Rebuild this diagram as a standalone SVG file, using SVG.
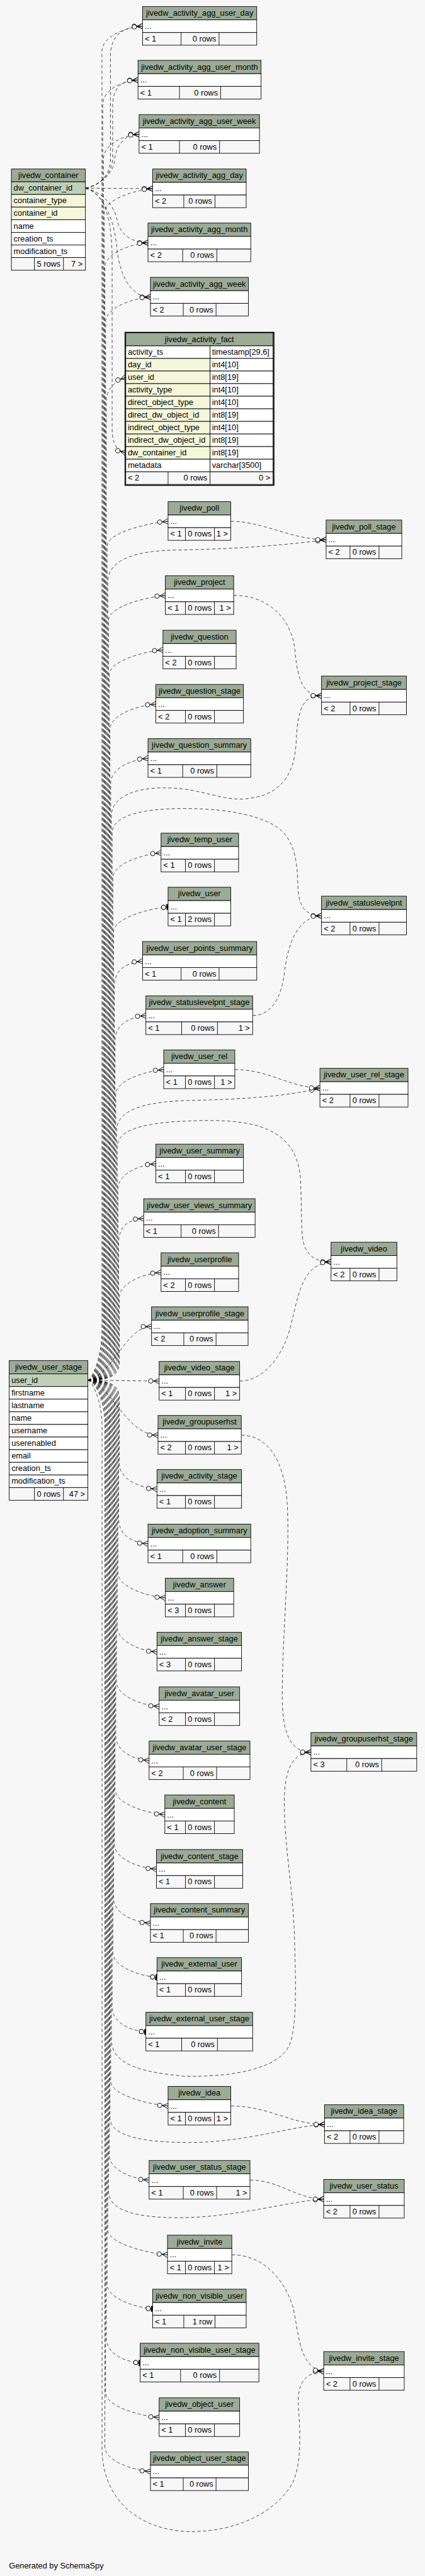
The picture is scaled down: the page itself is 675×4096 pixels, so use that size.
<svg xmlns="http://www.w3.org/2000/svg" xmlns:xlink="http://www.w3.org/1999/xlink" width="675" height="4096" viewBox="0 0 675 4096">
<style>
text{font-family:"Liberation Sans",Arial,Helvetica,sans-serif;font-size:14.5px;fill:#000}
.c{text-anchor:middle}
.r{text-anchor:end}
.hd{fill:#9bab96;stroke:#000;stroke-width:1}
.rw{fill:#fff;stroke:#000;stroke-width:1}
.ft{fill:#f7f7f7;stroke:#000;stroke-width:1}
.pk{fill:#bed1b8;stroke:#000;stroke-width:1}
.ix{fill:#f4f7da;stroke:#000;stroke-width:1}
.dv{stroke:#000;stroke-width:1;fill:none}
</style>
<defs>
<marker id="crow" markerUnits="userSpaceOnUse" orient="auto" markerWidth="30" markerHeight="20" viewBox="-25 -10 30 20" refX="0" refY="0" overflow="visible">
<circle cx="-15" cy="0" r="4" fill="#f7f7f7" stroke="#000" stroke-width="1"/>
<path d="M-11,0H0M-10,0L0,-5M-10,0L0,5" fill="none" stroke="#000" stroke-width="1"/>
</marker>
<marker id="tee" markerUnits="userSpaceOnUse" orient="auto" markerWidth="30" markerHeight="20" viewBox="-25 -10 30 20" refX="0" refY="0" overflow="visible">
<circle cx="-8" cy="0" r="4" fill="#f7f7f7" stroke="#000" stroke-width="1"/>
<path d="M-4,0H0" fill="none" stroke="#000" stroke-width="1"/>
<path d="M-1.5,-5V5" fill="none" stroke="#000" stroke-width="2.5"/>
</marker>
</defs>
<rect x="0" y="0" width="675" height="4096" fill="#f7f7f7"/>
<g transform="scale(0.886)">
<g id="connectors">
<use xlink:href="#edgepaths" href="#edgepaths" style="fill:none;stroke:#fff;stroke-width:0.8"/>
<g style="fill:none;stroke:#000;stroke-width:0.8;stroke-dasharray:6,4;marker-end:url(#crow)">
<g id="edgepaths">
<path d="M153.1,337.7 C175,334 196,318 198,290 L198,100 C198,65 220,47 255.6,47"/>
<path d="M153.1,337.7 C178,333 200,315 202,285 L202,190 C202,160 215,144 247.4,143.6"/>
<path d="M153.1,337.7 C180,332 203,310 205,290 C207,265 220,241 249.3,241"/>
<path d="M153.1,337.7 L273.6,338.6"/>
<path d="M153.1,337.7 C185,345 205,370 210,395 C215,420 235,435.6 265.3,435.6"/>
<path d="M153.1,337.7 C188,348 205,400 209,440 C213,490 232,533 269.7,533"/>
<path d="M153.1,337.7 C190,345 200,400 201,460 L201,770 C201,795 208,808 225.5,812.8"/>
<path d="M157.5,2477 C200,2470 225,2381 271.7,2380.6"/>
<path d="M157.5,2477 L285.3,2478.6"/>
<path d="M157.5,2477 C194,2477 214,2470 214,2445 L214,2328.6 C214,2303.6 253.7,2286.6 288.7,2283.6"/>
<path d="M157.5,2477 C192.7,2477 212.7,2468.8 212.7,2442.5 L212.7,2231.6 C212.7,2206.6 222.6,2189.6 257.6,2186.6"/>
<path d="M157.5,2477 C191.4,2477 211.4,2467.6 211.4,2440 L211.4,2133.6 C211.4,2108.6 244.4,2091.6 279.4,2088.6"/>
<path d="M157.5,2477 C190.1,2477 210.1,2466.4 210.1,2437.5 L210.1,2058 C210.1,2025 265,2011 380,2011 C480,2011 535,2040 539,2120 L541,2205 C542,2250 560,2264 593.4,2264.6"/>
<path d="M157.5,2477 C188.8,2477 208.8,2465.2 208.8,2435 L208.8,2030 C208.8,1995 250,1977 340,1975 C430,1973 515,1968 573.5,1952.6"/>
<path d="M157.5,2477 C187.5,2477 207.5,2464 207.5,2432.5 L207.5,1964.6 C207.5,1939.6 258.5,1922.6 293.5,1919.6"/>
<path d="M157.5,2477 C186.2,2477 206.2,2462.8 206.2,2430 L206.2,1867.6 C206.2,1842.6 226.5,1825.6 261.5,1822.6"/>
<path d="M157.5,2477 C184.9,2477 204.9,2461.6 204.9,2427.5 L204.9,1770 C204.9,1745 220.6,1728 255.6,1725"/>
<path marker-end="url(#tee)" d="M157.5,2477 C183.6,2477 203.6,2460.4 203.6,2425 L203.6,1672.6 C203.6,1647.6 266.3,1630.6 301.3,1627.6"/>
<path d="M157.5,2477 C182.3,2477 202.3,2459.2 202.3,2422.5 L202.3,1575.6 C202.3,1550.6 253.7,1533.6 288.7,1530.6"/>
<path d="M157.5,2477 C181,2477 201,2458 201,2420 L201,1495 C201,1465 250,1451 330,1451 C420,1451 490,1468 513,1500 C533,1527 533,1565 534,1590 C535,1628 548,1643 576.4,1643.6"/>
<path d="M157.5,2477 C179.7,2477 199.7,2456.8 199.7,2417.5 L199.7,1465 C199.7,1428 245,1413 300,1414 C360,1415 395,1436 435,1434 C500,1430 528,1395 531,1330 C534,1270 543,1249 576.4,1248.6"/>
<path d="M157.5,2477 C178.4,2477 198.4,2455.6 198.4,2415 L198.4,1406 C198.4,1381 230.3,1364 265.3,1361"/>
<path d="M157.5,2477 C177.1,2477 197.1,2454.4 197.1,2412.5 L197.1,1308.6 C197.1,1283.6 244.4,1266.6 279.4,1263.6"/>
<path d="M157.5,2477 C175.8,2477 195.8,2453.2 195.8,2410 L195.8,1211.3 C195.8,1186.3 257.1,1169.3 292.1,1166.3"/>
<path d="M157.5,2477 C174.5,2477 194.5,2452 194.5,2407.5 L194.5,1113.6 C194.5,1088.6 261.4,1071.6 296.4,1068.6"/>
<path d="M157.5,2477 C173.2,2477 193.2,2450.8 193.2,2405 L193.2,1045 C193.2,1005 240,988 320,987 C440,985 520,977 584.6,968.6"/>
<path d="M157.5,2477 C171.9,2477 191.9,2449.6 191.9,2402.5 L191.9,980.6 C191.9,955.6 266.3,938.6 301.3,935.6"/>
<path d="M157.5,2477 C170.6,2477 190.6,2448.4 190.6,2400 L190.6,720 C190.6,700 205,684 225.5,677.2"/>
<path d="M157.5,2477 C169.3,2477 189.3,2447.2 189.3,2397.5 L189.3,578 C189.3,553 234.7,536 269.7,533"/>
<path d="M157.5,2477 C168,2477 188,2446 188,2395 L188,480.6 C188,455.6 230.3,438.6 265.3,435.6"/>
<path d="M157.5,2477 C166.7,2477 186.7,2444.8 186.7,2392.5 L186.7,383.6 C186.7,358.6 238.6,341.6 273.6,338.6"/>
<path d="M157.5,2477 C165.4,2477 185.4,2443.6 185.4,2390 L185.4,286 C185.4,261 214.3,244 249.3,241"/>
<path d="M157.5,2477 C164.1,2477 184.1,2442.4 184.1,2387.5 L184.1,188.6 C184.1,163.6 212.4,146.6 247.4,143.6"/>
<path d="M157.5,2477 C162.8,2477 182.8,2441.2 182.8,2385 L182.8,92 C182.8,67 220.6,50 255.6,47"/>
<path d="M157.5,2477 C200,2485 225,2575 283.3,2575.6"/>
<path d="M157.5,2477 C194,2477 214,2484 214,2509 L214,2627.6 C214,2652.6 246.4,2669.6 281.4,2672.6"/>
<path d="M157.5,2477 C192.7,2477 212.7,2485.2 212.7,2511.5 L212.7,2725.6 C212.7,2750.6 230.3,2767.6 265.3,2770.6"/>
<path d="M157.5,2477 C191.4,2477 211.4,2486.4 211.4,2514 L211.4,2822.6 C211.4,2847.6 261.4,2864.6 296.4,2867.6"/>
<path d="M157.5,2477 C190.1,2477 210.1,2487.6 210.1,2516.5 L210.1,2919.6 C210.1,2944.6 246.4,2961.6 281.4,2964.6"/>
<path d="M157.5,2477 C188.8,2477 208.8,2488.8 208.8,2519 L208.8,3017.6 C208.8,3042.6 250.3,3059.6 285.3,3062.6"/>
<path d="M157.5,2477 C187.5,2477 207.5,2490 207.5,2521.5 L207.5,3114.6 C207.5,3139.6 232.3,3156.6 267.3,3159.6"/>
<path d="M157.5,2477 C186.2,2477 206.2,2491.2 206.2,2524 L206.2,3211.6 C206.2,3236.6 260.5,3253.6 295.5,3256.6"/>
<path d="M157.5,2477 C184.9,2477 204.9,2492.4 204.9,2526.5 L204.9,3309.6 C204.9,3334.6 245.4,3351.6 280.4,3354.6"/>
<path d="M157.5,2477 C183.6,2477 203.6,2493.6 203.6,2529 L203.6,3406.6 C203.6,3431.6 234.7,3448.6 269.7,3451.6"/>
<path marker-end="url(#tee)" d="M157.5,2477 C182.3,2477 202.3,2494.8 202.3,2531.5 L202.3,3503.6 C202.3,3528.6 246.4,3545.6 281.4,3548.6"/>
<path marker-end="url(#tee)" d="M157.5,2477 C181,2477 201,2496 201,2534 L201,3601.6 C201,3626.6 226.5,3643.6 261.5,3646.6"/>
<path d="M157.5,2477 C179.7,2477 199.7,2497.2 199.7,2536.5 L199.7,3660 C199.7,3700 240,3718 330,3726 C420,3728 498,3712 518,3672 C533,3638 530,3560 528,3480 C526,3390 507,3300 510,3220 C512,3170 528,3146 557.4,3144.6"/>
<path d="M157.5,2477 C178.4,2477 198.4,2498.4 198.4,2539 L198.4,3734.6 C198.4,3759.6 266.3,3776.6 301.3,3779.6"/>
<path d="M157.5,2477 C177.1,2477 197.1,2499.6 197.1,2541.5 L197.1,3800 C197.1,3832 250,3845 340,3845 C440,3845 520,3816 581.7,3812.6"/>
<path d="M157.5,2477 C175.8,2477 195.8,2500.8 195.8,2544 L195.8,3867.6 C195.8,3892.6 232.3,3909.6 267.3,3912.6"/>
<path d="M157.5,2477 C174.5,2477 194.5,2502 194.5,2546.5 L194.5,3932 C194.5,3966 240,3980 320,3980 C420,3980 515,3951 580.3,3946.6"/>
<path d="M157.5,2477 C173.2,2477 193.2,2503.2 193.2,2549 L193.2,4001.6 C193.2,4026.6 265.3,4043.6 300.3,4046.6"/>
<path marker-end="url(#tee)" d="M157.5,2477 C171.9,2477 191.9,2504.4 191.9,2551.5 L191.9,4098.6 C191.9,4123.6 238.6,4140.6 273.6,4143.6"/>
<path marker-end="url(#tee)" d="M157.5,2477 C170.6,2477 190.6,2505.6 190.6,2554 L190.6,4195.6 C190.6,4220.6 216.3,4237.6 251.3,4240.6"/>
<path d="M157.5,2477 C169.3,2477 189.3,2506.8 189.3,2556.5 L189.3,4293.6 C189.3,4318.6 250.3,4335.6 285.3,4338.6"/>
<path d="M157.5,2477 C168,2477 188,2508 188,2559 L188,4390.6 C188,4415.6 234.7,4432.6 269.7,4435.6"/>
<path d="M157.5,2477 C163,2477 183,2509.2 183,2561.5 L183,4400 C185,4470 230,4535 330,4543 C430,4547 500,4502 525,4455 C541,4420 538,4360 535,4320 C532,4280 545,4257 580.3,4255.6"/>
<path d="M413.6,935.6 C470,935 520,968 584.6,968.6"/>
<path d="M418.9,1068.6 C480,1068 524,1110 529,1170 C534,1225 545,1248 576.4,1248.6"/>
<path d="M452.9,1822.6 C490,1822 505,1785 510,1745 C516,1695 532,1646 576.4,1643.6"/>
<path d="M420.9,1919.6 C480,1919 520,1952 573.5,1952.6"/>
<path d="M429.6,2478.6 C470,2478 500,2440 515,2400 C535,2340 533,2270 593.4,2264.6"/>
<path d="M432.5,2575.6 C480,2576 510,2620 515,2700 C520,2800 505,2950 506,3050 C507,3120 525,3144 557.4,3144.6"/>
<path d="M413.6,3779.6 C480,3779 520,3812 581.7,3812.6"/>
<path d="M448.1,3912.6 C500,3912 530,3946 580.3,3946.6"/>
<path d="M415.5,4046.6 C470,4046 510,4090 525,4140 C536,4185 535,4250 580.3,4255.6"/>
</g>
</g>
</g>

<g id="jivedw_container"><rect class="hd" x="20.4" y="303.3" width="132.7" height="23"/><rect class="pk" x="20.4" y="326.3" width="132.7" height="22.7"/><rect class="ix" x="20.4" y="349" width="132.7" height="22.6"/><rect class="ix" x="20.4" y="371.6" width="132.7" height="22.7"/><rect class="rw" x="20.4" y="394.3" width="132.7" height="22.7"/><rect class="rw" x="20.4" y="417" width="132.7" height="22.6"/><rect class="rw" x="20.4" y="439.6" width="132.7" height="22.7"/><rect class="ft" x="20.4" y="462.3" width="132.7" height="22.7"/><path class="dv" d="M61.7,462.3V485M113.7,462.3V485"/><text class="c" x="86.75" y="319.8">jivedw_container</text><text x="24.4" y="342.3">dw_container_id</text><text x="24.4" y="365">container_type</text><text x="24.4" y="387.6">container_id</text><text x="24.4" y="410.3">name</text><text x="24.4" y="433">creation_ts</text><text x="24.4" y="455.6">modification_ts</text><text class="r" x="108.7" y="478.3">5 rows</text><text class="r" x="148.1" y="478.3">7 &gt;</text></g>

<g id="jivedw_user_stage"><rect class="hd" x="16.5" y="2441.7" width="141" height="24"/><rect class="pk" x="16.5" y="2465.7" width="141" height="22.7"/><rect class="rw" x="16.5" y="2488.4" width="141" height="22.6"/><rect class="rw" x="16.5" y="2511" width="141" height="22.7"/><rect class="rw" x="16.5" y="2533.7" width="141" height="22.7"/><rect class="rw" x="16.5" y="2556.4" width="141" height="22.6"/><rect class="rw" x="16.5" y="2579" width="141" height="22.7"/><rect class="rw" x="16.5" y="2601.7" width="141" height="22.7"/><rect class="rw" x="16.5" y="2624.4" width="141" height="22.6"/><rect class="rw" x="16.5" y="2647" width="141" height="22.7"/><rect class="ft" x="16.5" y="2669.7" width="141" height="22.7"/><path class="dv" d="M61.7,2669.7V2692.4M113.7,2669.7V2692.4"/><text class="c" x="87" y="2458.2">jivedw_user_stage</text><text x="20.5" y="2481.7">user_id</text><text x="20.5" y="2504.4">firstname</text><text x="20.5" y="2527">lastname</text><text x="20.5" y="2549.7">name</text><text x="20.5" y="2572.4">username</text><text x="20.5" y="2595">userenabled</text><text x="20.5" y="2617.7">email</text><text x="20.5" y="2640.4">creation_ts</text><text x="20.5" y="2663">modification_ts</text><text class="r" x="108.7" y="2685.7">0 rows</text><text class="r" x="152.5" y="2685.7">47 &gt;</text></g>

<g id="jivedw_activity_fact"><rect x="224.3" y="596.5" width="266.7" height="274.4" fill="none" stroke="#000" stroke-width="1.8"/><rect class="hd" x="225.5" y="597.3" width="263.9" height="23.4"/>
<rect class="rw" x="225.5" y="620.7" width="151.1" height="22.6"/><rect class="ix" x="225.5" y="643.3" width="151.1" height="22.6"/><rect class="ix" x="225.5" y="665.9" width="151.1" height="22.6"/><rect class="ix" x="225.5" y="688.5" width="151.1" height="22.6"/><rect class="ix" x="225.5" y="711.1" width="151.1" height="22.6"/><rect class="ix" x="225.5" y="733.7" width="151.1" height="22.6"/><rect class="ix" x="225.5" y="756.3" width="151.1" height="22.6"/><rect class="ix" x="225.5" y="778.9" width="151.1" height="22.6"/><rect class="ix" x="225.5" y="801.5" width="151.1" height="22.6"/><rect class="rw" x="225.5" y="824.1" width="151.1" height="22.6"/>
<rect class="rw" x="376.6" y="620.7" width="112.8" height="22.6"/><rect class="rw" x="376.6" y="643.3" width="112.8" height="22.6"/><rect class="rw" x="376.6" y="665.9" width="112.8" height="22.6"/><rect class="rw" x="376.6" y="688.5" width="112.8" height="22.6"/><rect class="rw" x="376.6" y="711.1" width="112.8" height="22.6"/><rect class="rw" x="376.6" y="733.7" width="112.8" height="22.6"/><rect class="rw" x="376.6" y="756.3" width="112.8" height="22.6"/><rect class="rw" x="376.6" y="778.9" width="112.8" height="22.6"/><rect class="rw" x="376.6" y="801.5" width="112.8" height="22.6"/><rect class="rw" x="376.6" y="824.1" width="112.8" height="22.6"/>
<rect class="ft" x="225.5" y="846.7" width="263.9" height="22.6"/><path class="dv" d="M301.3,846.7V869.3M376.6,846.7V869.3"/>
<text class="c" x="357.45" y="613.8">jivedw_activity_fact</text>
<text x="229" y="636.7">activity_ts</text><text x="229" y="659.3">day_id</text><text x="229" y="681.9">user_id</text><text x="229" y="704.5">activity_type</text><text x="229" y="727.1">direct_object_type</text><text x="229" y="749.7">direct_dw_object_id</text><text x="229" y="772.3">indirect_object_type</text><text x="229" y="794.9">indirect_dw_object_id</text><text x="229" y="817.5">dw_container_id</text><text x="229" y="840.1">metadata</text>
<text x="380" y="636.7">timestamp[29,6]</text><text x="380" y="659.3">int4[10]</text><text x="380" y="681.9">int8[19]</text><text x="380" y="704.5">int4[10]</text><text x="380" y="727.1">int4[10]</text><text x="380" y="749.7">int8[19]</text><text x="380" y="772.3">int4[10]</text><text x="380" y="794.9">int8[19]</text><text x="380" y="817.5">int8[19]</text><text x="380" y="840.1">varchar[3500]</text>
<text x="229" y="862.7">&lt; 2</text><text class="r" x="371.6" y="862.7">0 rows</text><text class="r" x="484.4" y="862.7">0 &gt;</text></g>

<g id="jivedw_activity_agg_user_day"><rect class="hd" x="255.6" y="11.7" width="204.6" height="24"/><rect class="rw" x="255.6" y="35.7" width="204.6" height="22.7"/><rect class="ft" x="255.6" y="58.4" width="204.6" height="22.7"/><path class="dv" d="M324.6,58.4V81.1M392.7,58.4V81.1"/><text class="c" x="357.9" y="28.2">jivedw_activity_agg_user_day</text><text x="259.6" y="51.7">...</text><text x="259.6" y="74.4">&lt; 1</text><text class="r" x="387.7" y="74.4">0 rows</text></g>
<g id="jivedw_activity_agg_user_month"><rect class="hd" x="247.4" y="108.3" width="220.6" height="24"/><rect class="rw" x="247.4" y="132.3" width="220.6" height="22.7"/><rect class="ft" x="247.4" y="155" width="220.6" height="22.7"/><path class="dv" d="M321.7,155V177.7M395.6,155V177.7"/><text class="c" x="357.7" y="124.8">jivedw_activity_agg_user_month</text><text x="251.4" y="148.3">...</text><text x="251.4" y="171">&lt; 1</text><text class="r" x="390.6" y="171">0 rows</text></g>
<g id="jivedw_activity_agg_user_week"><rect class="hd" x="249.3" y="205.7" width="215.8" height="24"/><rect class="rw" x="249.3" y="229.7" width="215.8" height="22.7"/><rect class="ft" x="249.3" y="252.4" width="215.8" height="22.7"/><path class="dv" d="M321.7,252.4V275.1M393.6,252.4V275.1"/><text class="c" x="357.2" y="222.2">jivedw_activity_agg_user_week</text><text x="253.3" y="245.7">...</text><text x="253.3" y="268.4">&lt; 1</text><text class="r" x="388.6" y="268.4">0 rows</text></g>
<g id="jivedw_activity_agg_day"><rect class="hd" x="273.6" y="303.3" width="167.7" height="24"/><rect class="rw" x="273.6" y="327.3" width="167.7" height="22.7"/><rect class="ft" x="273.6" y="350" width="167.7" height="22.7"/><path class="dv" d="M329.5,350V372.7M385.4,350V372.7"/><text class="c" x="357.45" y="319.8">jivedw_activity_agg_day</text><text x="277.6" y="343.3">...</text><text x="277.6" y="366">&lt; 2</text><text class="r" x="380.4" y="366">0 rows</text></g>
<g id="jivedw_activity_agg_month"><rect class="hd" x="265.3" y="400.3" width="184.2" height="24"/><rect class="rw" x="265.3" y="424.3" width="184.2" height="22.7"/><rect class="ft" x="265.3" y="447" width="184.2" height="22.7"/><path class="dv" d="M327.5,447V469.7M388.8,447V469.7"/><text class="c" x="357.4" y="416.8">jivedw_activity_agg_month</text><text x="269.3" y="440.3">...</text><text x="269.3" y="463">&lt; 2</text><text class="r" x="383.8" y="463">0 rows</text></g>
<g id="jivedw_activity_agg_week"><rect class="hd" x="269.7" y="497.7" width="175.5" height="24"/><rect class="rw" x="269.7" y="521.7" width="175.5" height="22.7"/><rect class="ft" x="269.7" y="544.4" width="175.5" height="22.7"/><path class="dv" d="M328.5,544.4V567.1M387.3,544.4V567.1"/><text class="c" x="357.45" y="514.2">jivedw_activity_agg_week</text><text x="273.7" y="537.7">...</text><text x="273.7" y="560.4">&lt; 2</text><text class="r" x="382.3" y="560.4">0 rows</text></g>
<g id="jivedw_poll"><rect class="hd" x="301.3" y="900.3" width="112.3" height="24"/><rect class="rw" x="301.3" y="924.3" width="112.3" height="22.7"/><rect class="ft" x="301.3" y="947" width="112.3" height="22.7"/><path class="dv" d="M332.4,947V969.7M384.4,947V969.7"/><text class="c" x="357.45" y="916.8">jivedw_poll</text><text x="305.3" y="940.3">...</text><text x="305.3" y="963">&lt; 1</text><text class="r" x="379.4" y="963">0 rows</text><text class="r" x="408.6" y="963">1 &gt;</text></g>
<g id="jivedw_poll_stage"><rect class="hd" x="584.6" y="933.3" width="135.6" height="24"/><rect class="rw" x="584.6" y="957.3" width="135.6" height="22.7"/><rect class="ft" x="584.6" y="980" width="135.6" height="22.7"/><path class="dv" d="M627.4,980V1002.7M679.4,980V1002.7"/><text class="c" x="652.4" y="949.8">jivedw_poll_stage</text><text x="588.6" y="973.3">...</text><text x="588.6" y="996">&lt; 2</text><text class="r" x="674.4" y="996">0 rows</text></g>
<g id="jivedw_project"><rect class="hd" x="296.4" y="1033.3" width="122.5" height="24"/><rect class="rw" x="296.4" y="1057.3" width="122.5" height="22.7"/><rect class="ft" x="296.4" y="1080" width="122.5" height="22.7"/><path class="dv" d="M332.4,1080V1102.7M384.4,1080V1102.7"/><text class="c" x="357.65" y="1049.8">jivedw_project</text><text x="300.4" y="1073.3">...</text><text x="300.4" y="1096">&lt; 1</text><text class="r" x="379.4" y="1096">0 rows</text><text class="r" x="413.9" y="1096">1 &gt;</text></g>
<g id="jivedw_question"><rect class="hd" x="292.1" y="1131" width="131.2" height="24"/><rect class="rw" x="292.1" y="1155" width="131.2" height="22.7"/><rect class="ft" x="292.1" y="1177.7" width="131.2" height="22.7"/><path class="dv" d="M332.4,1177.7V1200.4M384.4,1177.7V1200.4"/><text class="c" x="357.7" y="1147.5">jivedw_question</text><text x="296.1" y="1171">...</text><text x="296.1" y="1193.7">&lt; 2</text><text class="r" x="379.4" y="1193.7">0 rows</text></g>
<g id="jivedw_question_stage"><rect class="hd" x="279.4" y="1228.3" width="157" height="24"/><rect class="rw" x="279.4" y="1252.3" width="157" height="22.7"/><rect class="ft" x="279.4" y="1275" width="157" height="22.7"/><path class="dv" d="M332.4,1275V1297.7M384.4,1275V1297.7"/><text class="c" x="357.9" y="1244.8">jivedw_question_stage</text><text x="283.4" y="1268.3">...</text><text x="283.4" y="1291">&lt; 2</text><text class="r" x="379.4" y="1291">0 rows</text></g>
<g id="jivedw_question_summary"><rect class="hd" x="265.3" y="1325.7" width="184.2" height="24"/><rect class="rw" x="265.3" y="1349.7" width="184.2" height="22.7"/><rect class="ft" x="265.3" y="1372.4" width="184.2" height="22.7"/><path class="dv" d="M327.5,1372.4V1395.1M388.8,1372.4V1395.1"/><text class="c" x="357.4" y="1342.2">jivedw_question_summary</text><text x="269.3" y="1365.7">...</text><text x="269.3" y="1388.4">&lt; 1</text><text class="r" x="383.8" y="1388.4">0 rows</text></g>
<g id="jivedw_project_stage"><rect class="hd" x="576.4" y="1213.3" width="152.1" height="24"/><rect class="rw" x="576.4" y="1237.3" width="152.1" height="22.7"/><rect class="ft" x="576.4" y="1260" width="152.1" height="22.7"/><path class="dv" d="M627.4,1260V1282.7M679.4,1260V1282.7"/><text class="c" x="652.45" y="1229.8">jivedw_project_stage</text><text x="580.4" y="1253.3">...</text><text x="580.4" y="1276">&lt; 2</text><text class="r" x="674.4" y="1276">0 rows</text></g>
<g id="jivedw_temp_user"><rect class="hd" x="288.7" y="1495.3" width="139" height="24"/><rect class="rw" x="288.7" y="1519.3" width="139" height="22.7"/><rect class="ft" x="288.7" y="1542" width="139" height="22.7"/><path class="dv" d="M332.4,1542V1564.7M384.4,1542V1564.7"/><text class="c" x="358.2" y="1511.8">jivedw_temp_user</text><text x="292.7" y="1535.3">...</text><text x="292.7" y="1558">&lt; 1</text><text class="r" x="379.4" y="1558">0 rows</text></g>
<g id="jivedw_user"><rect class="hd" x="301.3" y="1592.3" width="112.3" height="24"/><rect class="rw" x="301.3" y="1616.3" width="112.3" height="22.7"/><rect class="ft" x="301.3" y="1639" width="112.3" height="22.7"/><path class="dv" d="M332.4,1639V1661.7M384.4,1639V1661.7"/><text class="c" x="357.45" y="1608.8">jivedw_user</text><text x="305.3" y="1632.3">...</text><text x="305.3" y="1655">&lt; 1</text><text class="r" x="379.4" y="1655">2 rows</text></g>
<g id="jivedw_user_points_summary"><rect class="hd" x="255.6" y="1689.7" width="204.6" height="24"/><rect class="rw" x="255.6" y="1713.7" width="204.6" height="22.7"/><rect class="ft" x="255.6" y="1736.4" width="204.6" height="22.7"/><path class="dv" d="M324.6,1736.4V1759.1M392.7,1736.4V1759.1"/><text class="c" x="357.9" y="1706.2">jivedw_user_points_summary</text><text x="259.6" y="1729.7">...</text><text x="259.6" y="1752.4">&lt; 1</text><text class="r" x="387.7" y="1752.4">0 rows</text></g>
<g id="jivedw_statuslevelpnt_stage"><rect class="hd" x="261.5" y="1787.3" width="191.4" height="24"/><rect class="rw" x="261.5" y="1811.3" width="191.4" height="22.7"/><rect class="ft" x="261.5" y="1834" width="191.4" height="22.7"/><path class="dv" d="M325.6,1834V1856.7M389.8,1834V1856.7"/><text class="c" x="357.2" y="1803.8">jivedw_statuslevelpnt_stage</text><text x="265.5" y="1827.3">...</text><text x="265.5" y="1850">&lt; 1</text><text class="r" x="384.8" y="1850">0 rows</text><text class="r" x="447.9" y="1850">1 &gt;</text></g>
<g id="jivedw_statuslevelpnt"><rect class="hd" x="576.4" y="1608.3" width="152.1" height="24"/><rect class="rw" x="576.4" y="1632.3" width="152.1" height="22.7"/><rect class="ft" x="576.4" y="1655" width="152.1" height="22.7"/><path class="dv" d="M627.4,1655V1677.7M679.4,1655V1677.7"/><text class="c" x="652.45" y="1624.8">jivedw_statuslevelpnt</text><text x="580.4" y="1648.3">...</text><text x="580.4" y="1671">&lt; 2</text><text class="r" x="674.4" y="1671">0 rows</text></g>
<g id="jivedw_user_rel"><rect class="hd" x="293.5" y="1884.3" width="127.4" height="24"/><rect class="rw" x="293.5" y="1908.3" width="127.4" height="22.7"/><rect class="ft" x="293.5" y="1931" width="127.4" height="22.7"/><path class="dv" d="M332.4,1931V1953.7M384.4,1931V1953.7"/><text class="c" x="357.2" y="1900.8">jivedw_user_rel</text><text x="297.5" y="1924.3">...</text><text x="297.5" y="1947">&lt; 1</text><text class="r" x="379.4" y="1947">0 rows</text><text class="r" x="415.9" y="1947">1 &gt;</text></g>
<g id="jivedw_user_rel_stage"><rect class="hd" x="573.5" y="1917.3" width="157.9" height="24"/><rect class="rw" x="573.5" y="1941.3" width="157.9" height="22.7"/><rect class="ft" x="573.5" y="1964" width="157.9" height="22.7"/><path class="dv" d="M627.4,1964V1986.7M679.4,1964V1986.7"/><text class="c" x="652.45" y="1933.8">jivedw_user_rel_stage</text><text x="577.5" y="1957.3">...</text><text x="577.5" y="1980">&lt; 2</text><text class="r" x="674.4" y="1980">0 rows</text></g>
<g id="jivedw_user_summary"><rect class="hd" x="279.4" y="2053.3" width="157" height="24"/><rect class="rw" x="279.4" y="2077.3" width="157" height="22.7"/><rect class="ft" x="279.4" y="2100" width="157" height="22.7"/><path class="dv" d="M332.4,2100V2122.7M384.4,2100V2122.7"/><text class="c" x="357.9" y="2069.8">jivedw_user_summary</text><text x="283.4" y="2093.3">...</text><text x="283.4" y="2116">&lt; 1</text><text class="r" x="379.4" y="2116">0 rows</text></g>
<g id="jivedw_user_views_summary"><rect class="hd" x="257.6" y="2151.3" width="199.7" height="24"/><rect class="rw" x="257.6" y="2175.3" width="199.7" height="22.7"/><rect class="ft" x="257.6" y="2198" width="199.7" height="22.7"/><path class="dv" d="M324.6,2198V2220.7M391.7,2198V2220.7"/><text class="c" x="357.45" y="2167.8">jivedw_user_views_summary</text><text x="261.6" y="2191.3">...</text><text x="261.6" y="2214">&lt; 1</text><text class="r" x="386.7" y="2214">0 rows</text></g>
<g id="jivedw_video"><rect class="hd" x="593.4" y="2229.3" width="118.1" height="24"/><rect class="rw" x="593.4" y="2253.3" width="118.1" height="22.7"/><rect class="ft" x="593.4" y="2276" width="118.1" height="22.7"/><path class="dv" d="M627.4,2276V2298.7M679.4,2276V2298.7"/><text class="c" x="652.45" y="2245.8">jivedw_video</text><text x="597.4" y="2269.3">...</text><text x="597.4" y="2292">&lt; 2</text><text class="r" x="674.4" y="2292">0 rows</text></g>
<g id="jivedw_userprofile"><rect class="hd" x="288.7" y="2248.3" width="139" height="24"/><rect class="rw" x="288.7" y="2272.3" width="139" height="22.7"/><rect class="ft" x="288.7" y="2295" width="139" height="22.7"/><path class="dv" d="M332.4,2295V2317.7M384.4,2295V2317.7"/><text class="c" x="358.2" y="2264.8">jivedw_userprofile</text><text x="292.7" y="2288.3">...</text><text x="292.7" y="2311">&lt; 2</text><text class="r" x="379.4" y="2311">0 rows</text></g>
<g id="jivedw_userprofile_stage"><rect class="hd" x="271.7" y="2345.3" width="173" height="24"/><rect class="rw" x="271.7" y="2369.3" width="173" height="22.7"/><rect class="ft" x="271.7" y="2392" width="173" height="22.7"/><path class="dv" d="M329.5,2392V2414.7M387.3,2392V2414.7"/><text class="c" x="358.2" y="2361.8">jivedw_userprofile_stage</text><text x="275.7" y="2385.3">...</text><text x="275.7" y="2408">&lt; 2</text><text class="r" x="382.3" y="2408">0 rows</text></g>
<g id="jivedw_video_stage"><rect class="hd" x="285.3" y="2443.3" width="144.3" height="24"/><rect class="rw" x="285.3" y="2467.3" width="144.3" height="22.7"/><rect class="ft" x="285.3" y="2490" width="144.3" height="22.7"/><path class="dv" d="M332.4,2490V2512.7M384.4,2490V2512.7"/><text class="c" x="357.45" y="2459.8">jivedw_video_stage</text><text x="289.3" y="2483.3">...</text><text x="289.3" y="2506">&lt; 1</text><text class="r" x="379.4" y="2506">0 rows</text><text class="r" x="424.6" y="2506">1 &gt;</text></g>
<g id="jivedw_groupuserhst"><rect class="hd" x="283.3" y="2540.3" width="149.2" height="24"/><rect class="rw" x="283.3" y="2564.3" width="149.2" height="22.7"/><rect class="ft" x="283.3" y="2587" width="149.2" height="22.7"/><path class="dv" d="M332.4,2587V2609.7M384.4,2587V2609.7"/><text class="c" x="357.9" y="2556.8">jivedw_groupuserhst</text><text x="287.3" y="2580.3">...</text><text x="287.3" y="2603">&lt; 2</text><text class="r" x="379.4" y="2603">0 rows</text><text class="r" x="427.5" y="2603">1 &gt;</text></g>
<g id="jivedw_activity_stage"><rect class="hd" x="281.4" y="2637.3" width="151.6" height="24"/><rect class="rw" x="281.4" y="2661.3" width="151.6" height="22.7"/><rect class="ft" x="281.4" y="2684" width="151.6" height="22.7"/><path class="dv" d="M332.4,2684V2706.7M384.4,2684V2706.7"/><text class="c" x="357.2" y="2653.8">jivedw_activity_stage</text><text x="285.4" y="2677.3">...</text><text x="285.4" y="2700">&lt; 1</text><text class="r" x="379.4" y="2700">0 rows</text></g>
<g id="jivedw_adoption_summary"><rect class="hd" x="265.3" y="2735.3" width="184.2" height="24"/><rect class="rw" x="265.3" y="2759.3" width="184.2" height="22.7"/><rect class="ft" x="265.3" y="2782" width="184.2" height="22.7"/><path class="dv" d="M327.5,2782V2804.7M388.8,2782V2804.7"/><text class="c" x="357.4" y="2751.8">jivedw_adoption_summary</text><text x="269.3" y="2775.3">...</text><text x="269.3" y="2798">&lt; 1</text><text class="r" x="383.8" y="2798">0 rows</text></g>
<g id="jivedw_answer"><rect class="hd" x="296.4" y="2832.3" width="122.5" height="24"/><rect class="rw" x="296.4" y="2856.3" width="122.5" height="22.7"/><rect class="ft" x="296.4" y="2879" width="122.5" height="22.7"/><path class="dv" d="M332.4,2879V2901.7M384.4,2879V2901.7"/><text class="c" x="357.65" y="2848.8">jivedw_answer</text><text x="300.4" y="2872.3">...</text><text x="300.4" y="2895">&lt; 3</text><text class="r" x="379.4" y="2895">0 rows</text></g>
<g id="jivedw_answer_stage"><rect class="hd" x="281.4" y="2929.3" width="151.6" height="24"/><rect class="rw" x="281.4" y="2953.3" width="151.6" height="22.7"/><rect class="ft" x="281.4" y="2976" width="151.6" height="22.7"/><path class="dv" d="M332.4,2976V2998.7M384.4,2976V2998.7"/><text class="c" x="357.2" y="2945.8">jivedw_answer_stage</text><text x="285.4" y="2969.3">...</text><text x="285.4" y="2992">&lt; 3</text><text class="r" x="379.4" y="2992">0 rows</text></g>
<g id="jivedw_avatar_user"><rect class="hd" x="285.3" y="3027.3" width="144.3" height="24"/><rect class="rw" x="285.3" y="3051.3" width="144.3" height="22.7"/><rect class="ft" x="285.3" y="3074" width="144.3" height="22.7"/><path class="dv" d="M332.4,3074V3096.7M384.4,3074V3096.7"/><text class="c" x="357.45" y="3043.8">jivedw_avatar_user</text><text x="289.3" y="3067.3">...</text><text x="289.3" y="3090">&lt; 2</text><text class="r" x="379.4" y="3090">0 rows</text></g>
<g id="jivedw_avatar_user_stage"><rect class="hd" x="267.3" y="3124.3" width="180.8" height="24"/><rect class="rw" x="267.3" y="3148.3" width="180.8" height="22.7"/><rect class="ft" x="267.3" y="3171" width="180.8" height="22.7"/><path class="dv" d="M328.5,3171V3193.7M388.3,3171V3193.7"/><text class="c" x="357.7" y="3140.8">jivedw_avatar_user_stage</text><text x="271.3" y="3164.3">...</text><text x="271.3" y="3187">&lt; 2</text><text class="r" x="383.3" y="3187">0 rows</text></g>
<g id="jivedw_groupuserhst_stage"><rect class="hd" x="557.4" y="3109.3" width="189.6" height="24"/><rect class="rw" x="557.4" y="3133.3" width="189.6" height="22.7"/><rect class="ft" x="557.4" y="3156" width="189.6" height="22.7"/><path class="dv" d="M621.6,3156V3178.7M684.3,3156V3178.7"/><text class="c" x="652.2" y="3125.8">jivedw_groupuserhst_stage</text><text x="561.4" y="3149.3">...</text><text x="561.4" y="3172">&lt; 3</text><text class="r" x="679.3" y="3172">0 rows</text></g>
<g id="jivedw_content"><rect class="hd" x="295.5" y="3221.3" width="124.4" height="24"/><rect class="rw" x="295.5" y="3245.3" width="124.4" height="22.7"/><rect class="ft" x="295.5" y="3268" width="124.4" height="22.7"/><path class="dv" d="M332.4,3268V3290.7M384.4,3268V3290.7"/><text class="c" x="357.7" y="3237.8">jivedw_content</text><text x="299.5" y="3261.3">...</text><text x="299.5" y="3284">&lt; 1</text><text class="r" x="379.4" y="3284">0 rows</text></g>
<g id="jivedw_content_stage"><rect class="hd" x="280.4" y="3319.3" width="154.6" height="24"/><rect class="rw" x="280.4" y="3343.3" width="154.6" height="22.7"/><rect class="ft" x="280.4" y="3366" width="154.6" height="22.7"/><path class="dv" d="M332.4,3366V3388.7M384.4,3366V3388.7"/><text class="c" x="357.7" y="3335.8">jivedw_content_stage</text><text x="284.4" y="3359.3">...</text><text x="284.4" y="3382">&lt; 1</text><text class="r" x="379.4" y="3382">0 rows</text></g>
<g id="jivedw_content_summary"><rect class="hd" x="269.7" y="3416.3" width="175.5" height="24"/><rect class="rw" x="269.7" y="3440.3" width="175.5" height="22.7"/><rect class="ft" x="269.7" y="3463" width="175.5" height="22.7"/><path class="dv" d="M328.5,3463V3485.7M387.3,3463V3485.7"/><text class="c" x="357.45" y="3432.8">jivedw_content_summary</text><text x="273.7" y="3456.3">...</text><text x="273.7" y="3479">&lt; 1</text><text class="r" x="382.3" y="3479">0 rows</text></g>
<g id="jivedw_external_user"><rect class="hd" x="281.4" y="3513.3" width="151.6" height="24"/><rect class="rw" x="281.4" y="3537.3" width="151.6" height="22.7"/><rect class="ft" x="281.4" y="3560" width="151.6" height="22.7"/><path class="dv" d="M332.4,3560V3582.7M384.4,3560V3582.7"/><text class="c" x="357.2" y="3529.8">jivedw_external_user</text><text x="285.4" y="3553.3">...</text><text x="285.4" y="3576">&lt; 1</text><text class="r" x="379.4" y="3576">0 rows</text></g>
<g id="jivedw_external_user_stage"><rect class="hd" x="261.5" y="3611.3" width="191.4" height="24"/><rect class="rw" x="261.5" y="3635.3" width="191.4" height="22.7"/><rect class="ft" x="261.5" y="3658" width="191.4" height="22.7"/><path class="dv" d="M325.6,3658V3680.7M389.8,3658V3680.7"/><text class="c" x="357.2" y="3627.8">jivedw_external_user_stage</text><text x="265.5" y="3651.3">...</text><text x="265.5" y="3674">&lt; 1</text><text class="r" x="384.8" y="3674">0 rows</text></g>
<g id="jivedw_idea"><rect class="hd" x="301.3" y="3744.3" width="112.3" height="24"/><rect class="rw" x="301.3" y="3768.3" width="112.3" height="22.7"/><rect class="ft" x="301.3" y="3791" width="112.3" height="22.7"/><path class="dv" d="M332.4,3791V3813.7M384.4,3791V3813.7"/><text class="c" x="357.45" y="3760.8">jivedw_idea</text><text x="305.3" y="3784.3">...</text><text x="305.3" y="3807">&lt; 1</text><text class="r" x="379.4" y="3807">0 rows</text><text class="r" x="408.6" y="3807">1 &gt;</text></g>
<g id="jivedw_idea_stage"><rect class="hd" x="581.7" y="3777.3" width="141.9" height="24"/><rect class="rw" x="581.7" y="3801.3" width="141.9" height="22.7"/><rect class="ft" x="581.7" y="3824" width="141.9" height="22.7"/><path class="dv" d="M627.4,3824V3846.7M679.4,3824V3846.7"/><text class="c" x="652.65" y="3793.8">jivedw_idea_stage</text><text x="585.7" y="3817.3">...</text><text x="585.7" y="3840">&lt; 2</text><text class="r" x="674.4" y="3840">0 rows</text></g>
<g id="jivedw_user_status_stage"><rect class="hd" x="267.3" y="3877.3" width="180.8" height="24"/><rect class="rw" x="267.3" y="3901.3" width="180.8" height="22.7"/><rect class="ft" x="267.3" y="3924" width="180.8" height="22.7"/><path class="dv" d="M328.5,3924V3946.7M388.3,3924V3946.7"/><text class="c" x="357.7" y="3893.8">jivedw_user_status_stage</text><text x="271.3" y="3917.3">...</text><text x="271.3" y="3940">&lt; 1</text><text class="r" x="383.3" y="3940">0 rows</text><text class="r" x="443.1" y="3940">1 &gt;</text></g>
<g id="jivedw_user_status"><rect class="hd" x="580.3" y="3911.3" width="144.3" height="24"/><rect class="rw" x="580.3" y="3935.3" width="144.3" height="22.7"/><rect class="ft" x="580.3" y="3958" width="144.3" height="22.7"/><path class="dv" d="M627.4,3958V3980.7M679.4,3958V3980.7"/><text class="c" x="652.45" y="3927.8">jivedw_user_status</text><text x="584.3" y="3951.3">...</text><text x="584.3" y="3974">&lt; 2</text><text class="r" x="674.4" y="3974">0 rows</text></g>
<g id="jivedw_invite"><rect class="hd" x="300.3" y="4011.3" width="115.2" height="24"/><rect class="rw" x="300.3" y="4035.3" width="115.2" height="22.7"/><rect class="ft" x="300.3" y="4058" width="115.2" height="22.7"/><path class="dv" d="M332.4,4058V4080.7M384.4,4058V4080.7"/><text class="c" x="357.9" y="4027.8">jivedw_invite</text><text x="304.3" y="4051.3">...</text><text x="304.3" y="4074">&lt; 1</text><text class="r" x="379.4" y="4074">0 rows</text><text class="r" x="410.5" y="4074">1 &gt;</text></g>
<g id="jivedw_non_visible_user"><rect class="hd" x="273.6" y="4108.3" width="167.7" height="24"/><rect class="rw" x="273.6" y="4132.3" width="167.7" height="22.7"/><rect class="ft" x="273.6" y="4155" width="167.7" height="22.7"/><path class="dv" d="M329.5,4155V4177.7M385.4,4155V4177.7"/><text class="c" x="357.45" y="4124.8">jivedw_non_visible_user</text><text x="277.6" y="4148.3">...</text><text x="277.6" y="4171">&lt; 1</text><text class="r" x="380.4" y="4171">1 row</text></g>
<g id="jivedw_non_visible_user_stage"><rect class="hd" x="251.3" y="4205.3" width="212.8" height="24"/><rect class="rw" x="251.3" y="4229.3" width="212.8" height="22.7"/><rect class="ft" x="251.3" y="4252" width="212.8" height="22.7"/><path class="dv" d="M323.7,4252V4274.7M393.6,4252V4274.7"/><text class="c" x="357.7" y="4221.8">jivedw_non_visible_user_stage</text><text x="255.3" y="4245.3">...</text><text x="255.3" y="4268">&lt; 1</text><text class="r" x="388.6" y="4268">0 rows</text></g>
<g id="jivedw_invite_stage"><rect class="hd" x="580.3" y="4220.3" width="144.3" height="24"/><rect class="rw" x="580.3" y="4244.3" width="144.3" height="22.7"/><rect class="ft" x="580.3" y="4267" width="144.3" height="22.7"/><path class="dv" d="M627.4,4267V4289.7M679.4,4267V4289.7"/><text class="c" x="652.45" y="4236.8">jivedw_invite_stage</text><text x="584.3" y="4260.3">...</text><text x="584.3" y="4283">&lt; 2</text><text class="r" x="674.4" y="4283">0 rows</text></g>
<g id="jivedw_object_user"><rect class="hd" x="285.3" y="4303.3" width="144.3" height="24"/><rect class="rw" x="285.3" y="4327.3" width="144.3" height="22.7"/><rect class="ft" x="285.3" y="4350" width="144.3" height="22.7"/><path class="dv" d="M332.4,4350V4372.7M384.4,4350V4372.7"/><text class="c" x="357.45" y="4319.8">jivedw_object_user</text><text x="289.3" y="4343.3">...</text><text x="289.3" y="4366">&lt; 1</text><text class="r" x="379.4" y="4366">0 rows</text></g>
<g id="jivedw_object_user_stage"><rect class="hd" x="269.7" y="4400.3" width="175.5" height="24"/><rect class="rw" x="269.7" y="4424.3" width="175.5" height="22.7"/><rect class="ft" x="269.7" y="4447" width="175.5" height="22.7"/><path class="dv" d="M328.5,4447V4469.7M387.3,4447V4469.7"/><text class="c" x="357.45" y="4416.8">jivedw_object_user_stage</text><text x="273.7" y="4440.3">...</text><text x="273.7" y="4463">&lt; 1</text><text class="r" x="382.3" y="4463">0 rows</text></g>
<text x="16" y="4609">Generated by SchemaSpy</text>
</g>
</svg>
